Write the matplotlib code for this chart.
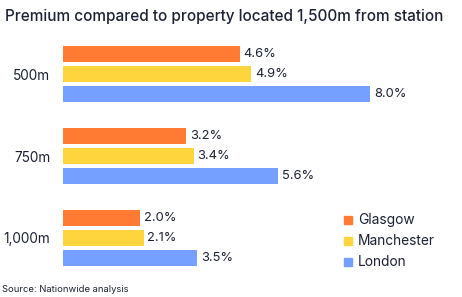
import numpy as np
import matplotlib.pyplot as plt
from matplotlib.patches import Rectangle

plt.rcParams['font.family'] = ['Inter', 'DejaVu Sans']

# data
distances = ['500m', '750m', '1,000m']
cities = ['Glasgow', 'Manchester', 'London']
glasgow = [4.6, 3.2, 2.0]
manchester = [4.9, 3.4, 2.1]
london = [8.0, 5.6, 3.5]
colors = ['#FF7A33', '#FFD53D', '#75A0FF']
text_col = '#1C2233'

fig = plt.figure(figsize=(4.62, 2.97), dpi=100)
ax = fig.add_axes([63 / 462, 0, 399 / 462, 1])

y = np.arange(len(distances))
step = 20 / 82
h = 16 / 82
for i, (vals, c) in enumerate(zip([glasgow, manchester, london], colors)):
    pos = y + (i - 1) * step
    ax.barh(pos, vals, height=h, color=c, edgecolor='none')
    for p, v in zip(pos, vals):
        ax.text(v + 0.1, p, f'{v:.1f}%', va='center', ha='left',
                fontsize=9.3, color=text_col)

ax.set_xlim(0, 399 / 38.4)
ax.set_ylim((297 - 74) / 82, -74 / 82)
ax.set_yticks(y)
ax.set_yticklabels(distances, fontsize=9.8, color=text_col)
ax.tick_params(axis='y', length=0, pad=9)
ax.set_xticks([])
for s in ax.spines.values():
    s.set_visible(False)
ax.patch.set_alpha(0)

# legend
for i, (name, c) in enumerate(zip(cities, colors)):
    yy = 1 - (220 + 21 * i) / 297
    fig.patches.append(Rectangle((344 / 462, yy - 4 / 297), 8 / 462, 8 / 297,
                                 transform=fig.transFigure, color=c))
    fig.text(358 / 462, yy, name, fontsize=9.9, color=text_col, va='center', ha='left')

fig.text(5 / 462, 1 - 17 / 297, 'Premium compared to property located 1,500m from station',
         fontsize=11, fontweight='medium', color=text_col, va='center', ha='left')
fig.text(2 / 462, 1 - 289 / 297, 'Source: Nationwide analysis',
         fontsize=6.8, color=text_col, va='center', ha='left')

fig.savefig('out.png', dpi=100)
